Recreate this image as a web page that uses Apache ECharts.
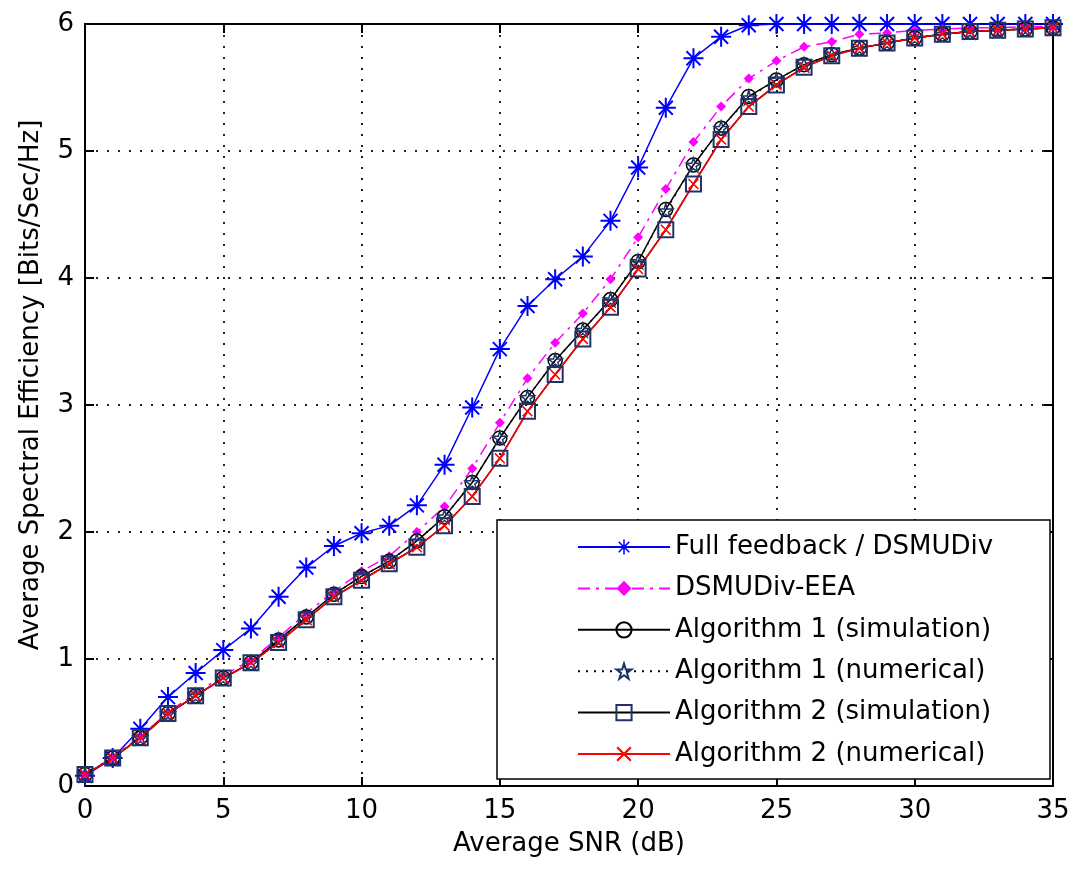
<!DOCTYPE html>
<html>
<head>
<meta charset="utf-8">
<script src="https://cdn.jsdelivr.net/npm/echarts@6/dist/echarts.min.js"></script>
<style>
  html, body { margin: 0; padding: 0; background: #fff; }
  #chart { width: 1077px; height: 869px; }
</style>
</head>
<body>
<div id="chart"></div>
<script>
// ---- data ----
const snr = [0,1,2,3,4,5,6,7,8,9,10,11,12,13,14,15,16,17,18,19,20,21,22,23,24,25,26,27,28,29,30,31,32,33,34,35];
const xTicks = [0,5,10,15,20,25,30,35];
const yTicks = [0,1,2,3,4,5,6];

const fullFeedback = [0.08,0.22,0.45,0.70,0.89,1.07,1.24,1.49,1.72,1.89,1.99,2.05,2.21,2.53,2.98,3.44,3.78,3.99,4.17,4.45,4.87,5.34,5.73,5.90,5.99,6.00,6.00,6.00,6.00,6.00,6.00,6.00,6.00,6.00,6.00,6.00];
const dsmudivEEA  = [0.09,0.23,0.39,0.58,0.73,0.87,0.99,1.17,1.36,1.53,1.69,1.81,2.00,2.20,2.50,2.86,3.21,3.49,3.72,3.99,4.32,4.70,5.07,5.35,5.57,5.71,5.82,5.86,5.92,5.93,5.95,5.96,5.97,5.97,5.98,5.98];
const alg1Sim     = [0.09,0.22,0.38,0.57,0.71,0.85,0.97,1.15,1.33,1.51,1.65,1.77,1.93,2.12,2.39,2.74,3.06,3.35,3.59,3.83,4.13,4.54,4.89,5.18,5.43,5.56,5.68,5.76,5.81,5.85,5.89,5.92,5.94,5.95,5.96,5.97];
const alg1Num     = [0.09,0.22,0.38,0.57,0.71,0.85,0.97,1.15,1.33,1.51,1.65,1.77,1.93,2.12,2.39,2.74,3.06,3.35,3.59,3.83,4.13,4.53,4.89,5.18,5.42,5.56,5.68,5.76,5.81,5.85,5.89,5.92,5.94,5.95,5.96,5.97];
const alg2Sim     = [0.09,0.22,0.38,0.57,0.71,0.85,0.97,1.13,1.31,1.49,1.62,1.75,1.88,2.05,2.28,2.58,2.95,3.24,3.52,3.77,4.07,4.38,4.74,5.09,5.35,5.52,5.66,5.75,5.81,5.85,5.89,5.92,5.94,5.95,5.96,5.97];
const alg2Num     = [0.09,0.22,0.38,0.57,0.71,0.85,0.97,1.13,1.31,1.49,1.62,1.75,1.88,2.05,2.28,2.58,2.95,3.24,3.52,3.77,4.07,4.38,4.74,5.09,5.35,5.52,5.66,5.75,5.81,5.85,5.89,5.92,5.94,5.95,5.96,5.97];

const seriesNames = [
  'Full feedback / DSMUDiv',
  'DSMUDiv-EEA',
  'Algorithm 1 (simulation)',
  'Algorithm 1 (numerical)',
  'Algorithm 2 (simulation)',
  'Algorithm 2 (numerical)'
];

// ---- marker shapes ----
const asteriskPath = 'path://M0 9L20 9L20 11L0 11Z M9 0L11 0L11 20L9 20Z M3.7 2.3L17.7 16.3L16.3 17.7L2.3 3.7Z M17.7 3.7L3.7 17.7L2.3 16.3L16.3 2.3Z';
const starPath = 'path://M10 0L12.25 6.91L19.51 6.91L13.63 11.18L15.88 18.09L10 13.82L4.12 18.09L6.37 11.18L0.49 6.91L7.75 6.91Z';
const crossPath = 'path://M1 0L10 9L9 10L0 1Z M9 0L10 1L1 10L0 9Z';

const FONT = 'DejaVu Sans';
const pair = arr => snr.map((x, i) => [x, arr[i]]);

const chart = echarts.init(document.getElementById('chart'), null, { renderer: 'canvas' });

const navy = '#1f3369';
const gridDots = { color: '#222', width: 2, type: [2, 9] };

const option = {
  animation: false,
  backgroundColor: '#fff',
  textStyle: { fontFamily: FONT },
  grid: { left: 85, right: 24, top: 24, bottom: 83, containLabel: false },
  xAxis: [
    {
      type: 'value', min: 0, max: 35, interval: 5, position: 'bottom',
      name: 'Average SNR (dB)', nameLocation: 'middle', nameGap: 45,
      nameTextStyle: { fontFamily: FONT, fontSize: 26, color: '#000' },
      axisLine: { show: true, onZero: false, lineStyle: { color: '#000', width: 2 } },
      axisTick: { show: true, inside: true, length: 9, lineStyle: { color: '#000', width: 2 } },
      axisLabel: { show: true, margin: 12, fontFamily: FONT, fontSize: 26, color: '#000',
        formatter: v => (xTicks.indexOf(v) >= 0 ? String(v) : '') },
      splitLine: { show: true, lineStyle: gridDots }
    },
    {
      type: 'value', min: 0, max: 35, interval: 5, position: 'top',
      axisLine: { show: true, onZero: false, lineStyle: { color: '#000', width: 2 } },
      axisTick: { show: true, inside: true, length: 9, lineStyle: { color: '#000', width: 2 } },
      axisLabel: { show: false },
      splitLine: { show: false }
    }
  ],
  yAxis: [
    {
      type: 'value', min: 0, max: 6, interval: 1, position: 'left',
      name: 'Average Spectral Efficiency [Bits/Sec/Hz]', nameLocation: 'middle', nameGap: 41,
      nameTextStyle: { fontFamily: FONT, fontSize: 26, color: '#000', padding: [0, 0, 0, 40] },
      axisLine: { show: true, onZero: false, lineStyle: { color: '#000', width: 2 } },
      axisTick: { show: true, inside: true, length: 9, lineStyle: { color: '#000', width: 2 } },
      axisLabel: { show: true, margin: 11, fontFamily: FONT, fontSize: 26, color: '#000',
        formatter: v => (yTicks.indexOf(v) >= 0 ? String(v) : '') },
      splitLine: { show: true, lineStyle: gridDots }
    },
    {
      type: 'value', min: 0, max: 6, interval: 1, position: 'right',
      axisLine: { show: true, onZero: false, lineStyle: { color: '#000', width: 2 } },
      axisTick: { show: true, inside: true, length: 9, lineStyle: { color: '#000', width: 2 } },
      axisLabel: { show: false },
      splitLine: { show: false }
    }
  ],
  graphic: [
    {
      type: 'rect', z: 3, silent: true,
      shape: { x: 497, y: 520, width: 553, height: 259 },
      style: { fill: '#fff', stroke: '#000', lineWidth: 1.5 }
    }
  ],
  legend: {
    orient: 'vertical', left: 577, top: 534, padding: 0, z: 10,
    itemWidth: 92, itemHeight: 19, itemGap: 15.4,
    textStyle: { fontFamily: FONT, fontSize: 26, color: '#000', lineHeight: 26 },
    data: seriesNames,
    selectedMode: false
  },
  series: [
    {
      name: seriesNames[0], type: 'line', data: pair(fullFeedback),
      symbol: asteriskPath, symbolSize: 20, showAllSymbol: true,
      lineStyle: { color: '#0000ff', width: 1.5 },
      itemStyle: { color: '#0000ff' },
      emphasis: { disabled: true }
    },
    {
      name: seriesNames[1], type: 'line', data: pair(dsmudivEEA),
      symbol: 'diamond', symbolSize: 10, showAllSymbol: true,
      lineStyle: { color: '#ff00ff', width: 1.5, type: [12, 6, 3, 6] },
      itemStyle: { color: '#ff00ff' },
      emphasis: { disabled: true }
    },
    {
      name: seriesNames[2], type: 'line', data: pair(alg1Sim),
      symbol: 'circle', symbolSize: 14, showAllSymbol: true,
      lineStyle: { color: '#000', width: 1.5 },
      itemStyle: { color: 'rgba(255,255,255,0)', borderColor: '#000', borderWidth: 1.5 },
      emphasis: { disabled: true }
    },
    {
      name: seriesNames[3], type: 'line', data: pair(alg1Num),
      symbol: starPath, symbolSize: 14, showAllSymbol: true,
      lineStyle: { color: '#000', width: 1.5, type: [2, 6] },
      itemStyle: { color: 'rgba(255,255,255,0)', borderColor: navy, borderWidth: 1.5 },
      emphasis: { disabled: true }
    },
    {
      name: seriesNames[4], type: 'line', data: pair(alg2Sim),
      symbol: 'rect', symbolSize: 15, showAllSymbol: true,
      lineStyle: { color: '#000', width: 1.5 },
      itemStyle: { color: 'rgba(255,255,255,0)', borderColor: navy, borderWidth: 2 },
      emphasis: { disabled: true }
    },
    {
      name: seriesNames[5], type: 'line', data: pair(alg2Num),
      symbol: crossPath, symbolSize: 11, showAllSymbol: true,
      lineStyle: { color: '#ff0000', width: 1.5 },
      itemStyle: { color: '#ff0000' },
      emphasis: { disabled: true }
    }
  ]
};

chart.setOption(option);
</script>
</body>
</html>
